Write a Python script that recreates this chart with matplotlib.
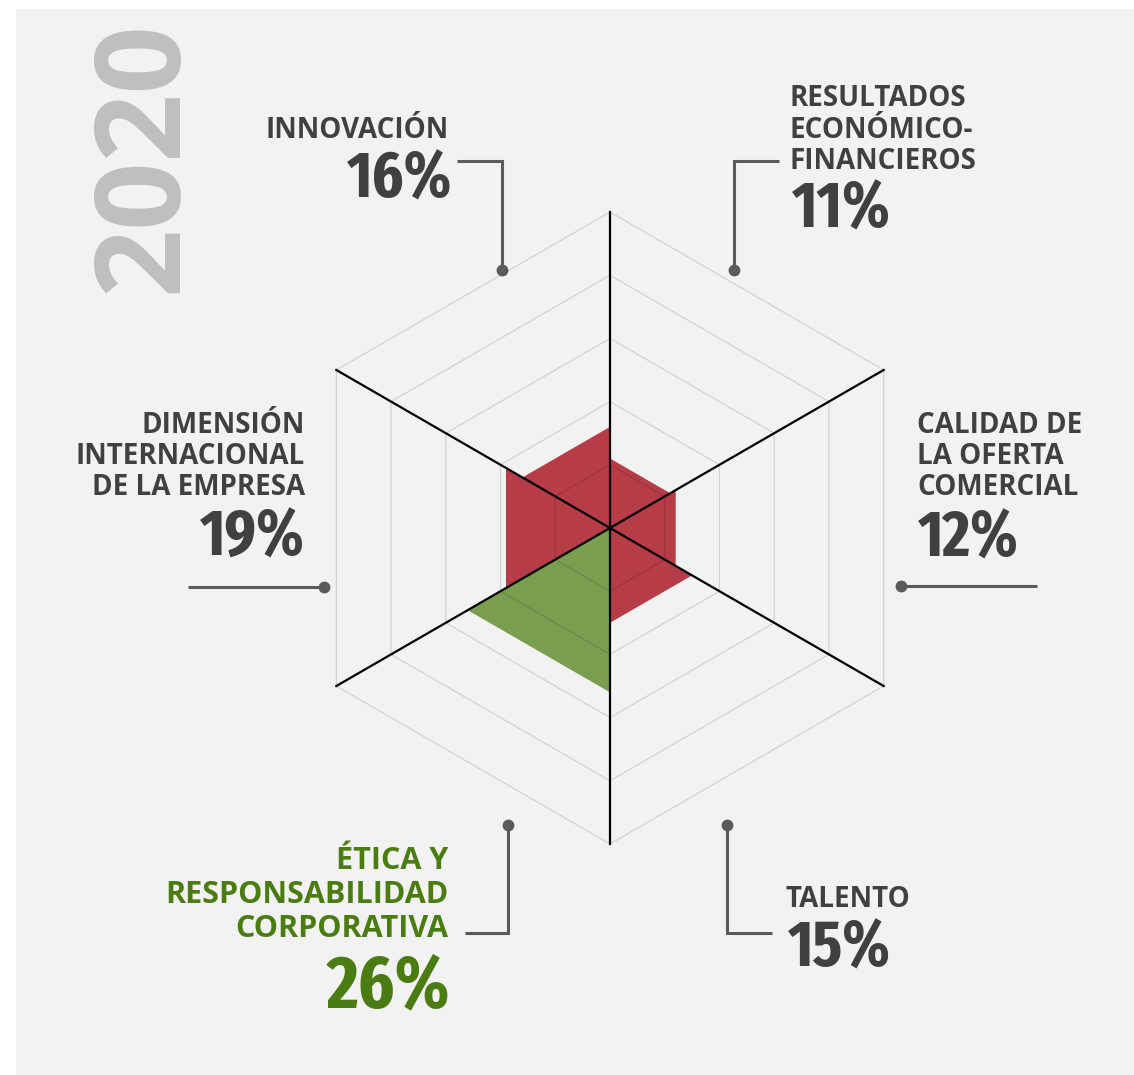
# -*- coding: utf-8 -*-
"""
Hexagonal radar of the 2020 weights per area
"""

import os
import numpy as np
import matplotlib
matplotlib.use('Agg')
import matplotlib.pyplot as plt
import matplotlib.font_manager as fm
from matplotlib.transforms import Affine2D
from matplotlib.patches import Rectangle

#------------------------------------------------------------------------------
# data
year = '2020'
labels = ['INNOVACIÓN',
          'RESULTADOS\nECONÓMICO-\nFINANCIEROS',
          'CALIDAD DE\nLA OFERTA\nCOMERCIAL',
          'TALENTO',
          'ÉTICA Y\nRESPONSABILIDAD\nCORPORATIVA',
          'DIMENSIÓN\nINTERNACIONAL\nDE LA EMPRESA']
values = [16, 11, 12, 15, 26, 19]
highlight = 4            # Ética y responsabilidad
grid_levels = [10, 20, 30, 40, 50]
axis_angles = [90, 30, -30]   # full diameters

# colours
c_bg    = '#F2F2F2'
c_red   = '#B63C47'
c_green = '#7A9E4F'
c_text  = '#404040'
c_gtext = '#4A7C12'
c_conn  = '#5A5A5A'
c_year  = '#BFBFBF'

#------------------------------------------------------------------------------
# fonts
def base(f):
    return os.path.basename(f.fname).lower().replace('-', '').replace('_', '')

def pick_label_font():
    for want in ['opensansbold.ttf', 'notosansbold.ttf', 'latobold.ttf']:
        for f in fm.fontManager.ttflist:
            if base(f) == want:
                return fm.FontProperties(fname=f.fname)
    return fm.FontProperties(family='DejaVu Sans', weight='bold')

def pick_condensed():
    best, best_score = None, -1
    for f in fm.fontManager.ttflist:
        fn = base(f)
        nm = f.name.lower()
        if 'italic' in fn or 'oblique' in fn:
            continue
        if not ('bold' in fn or 'bold' in nm):
            continue
        if 'semibold' in fn or 'demibold' in fn:
            continue
        score = 0
        if 'extracondensed' in fn:
            score = 5
        elif 'semicondensed' in fn:
            score = 2
        elif 'condensed' in fn or 'condensed' in nm:
            score = 4
        elif 'narrow' in fn or 'narrow' in nm:
            score = 3
        if 'extrabold' in fn or 'black' in fn:
            score -= 0.5
        if score > best_score and score > 0:
            best, best_score = f.fname, score
    if best is None:
        return fm.FontProperties(family='Liberation Sans', weight='bold')
    return fm.FontProperties(fname=best)

lab_fp = pick_label_font()
num_fp = pick_condensed()

W, H = 1134, 1075
fig = plt.figure(figsize=(W/100, H/100), dpi=100, facecolor='white')
pix = Affine2D().scale(1.0/W, -1.0/H).translate(0, 1) + fig.transFigure

# axes in "percent" units, centre of the radar at pixel (610, 528)
cx, cy, scl = 610, 528, 6.32
ax = fig.add_axes([0, 0, 1, 1])
ax.set_xlim(-cx/scl, (W-cx)/scl)
ax.set_ylim(-(H-cy)/scl, cy/scl)
ax.axis('off')

ax.add_patch(Rectangle((16, 9), W-16, H-9, transform=pix,
                       facecolor=c_bg, edgecolor='none', zorder=0))

#------------------------------------------------------------------------------
# sectors (each category fills the triangle between two axes)
for i, v in enumerate(values):
    a1 = np.radians(150 - 60*i)
    a2 = np.radians(90 - 60*i)
    xs = [0, v*np.cos(a1), v*np.cos(a2)]
    ys = [0, v*np.sin(a1), v*np.sin(a2)]
    col = c_green if i == highlight else c_red
    ax.fill(xs, ys, color=col, lw=0, zorder=2)

# hexagon grid
hex_ang = np.radians([90, 30, -30, -90, -150, 150, 90])
for lev in grid_levels:
    ax.plot(lev*np.cos(hex_ang), lev*np.sin(hex_ang), color='k',
            alpha=0.14, lw=0.8, zorder=3)

# axes
rmax = grid_levels[-1]
for a in axis_angles:
    r = np.radians(a)
    ax.plot([-rmax*np.cos(r), rmax*np.cos(r)],
            [-rmax*np.sin(r), rmax*np.sin(r)], color='k', lw=1.6, zorder=4)

#------------------------------------------------------------------------------
# labels: (ha, x, first baseline, line pitch, label size, pct x, pct baseline, pct size)
lab_pos = [('right', 449, 138, 31.5, 20, 452, 198, 47),
           ('left',  790, 106, 31.5, 20, 792, 228, 47),
           ('left',  917, 433, 31.0, 20, 918, 557, 47),
           ('left',  785, 907, 31.5, 20, 788, 967, 47),
           ('right', 448, 869, 33.8, 22, 450, 1007, 54),
           ('right', 305, 433, 31.0, 20, 305, 556, 47)]

conn = [[(457, 161), (502, 161), (502, 270)],
        [(779, 161), (734, 161), (734, 270)],
        [(1037, 586), (901, 586)],
        [(772, 933), (727, 933), (727, 825)],
        [(465, 933), (508, 933), (508, 825)],
        [(188, 587), (324, 587)]]

for i, (lab, v) in enumerate(zip(labels, values)):
    ha, x0, y0, dy, lsz, px_, py_, psz = lab_pos[i]
    col = c_gtext if i == highlight else c_text
    for k, line in enumerate(lab.split('\n')):
        ax.text(x0, y0 + k*dy, line, transform=pix, ha=ha, va='baseline',
                fontproperties=lab_fp, fontsize=lsz, color=col, zorder=5)
    ax.text(px_, py_, '%d%%' % v, transform=pix, ha=ha, va='baseline',
            fontproperties=num_fp, fontsize=psz, color=col, zorder=5)
    pts = np.array(conn[i])
    ax.plot(pts[:, 0], pts[:, 1], transform=pix, color=c_conn, lw=2.2,
            solid_capstyle='butt', solid_joinstyle='miter', zorder=5)
    ax.plot(pts[-1, 0], pts[-1, 1], transform=pix, marker='o', ms=7.5,
            color=c_conn, zorder=6)

# year
ax.text(145, 157, year, transform=pix, rotation=90, ha='center', va='center',
        fontproperties=lab_fp, fontsize=86, color=c_year, zorder=5)

fig.savefig('out.png', dpi=100, facecolor='white')
